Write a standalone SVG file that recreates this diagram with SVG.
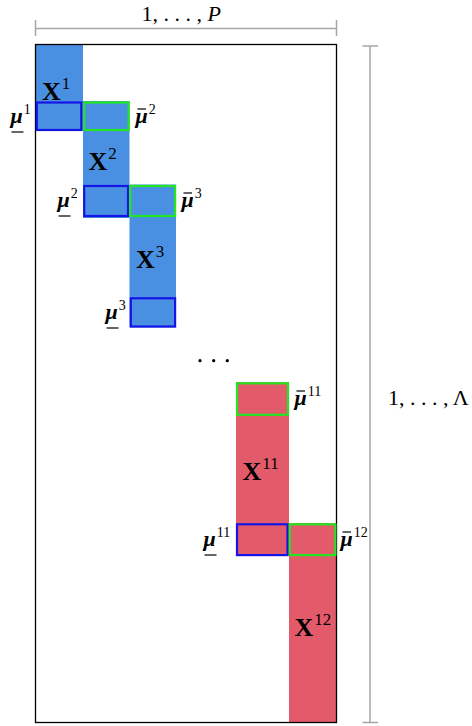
<svg xmlns="http://www.w3.org/2000/svg" width="472" height="726" viewBox="0 0 472 726">
<style>
.dim{stroke:#a6a6a6;stroke-width:1.5;fill:none}
.blue{fill:#4a90e2}
.red{fill:#e35a6a}
.bb{fill:none;stroke:#1414e6;stroke-width:2.2}
.gb{fill:none;stroke:#22e622;stroke-width:2.2}
.X{font-family:"Liberation Serif",serif;font-weight:bold;font-size:26px;fill:#000}
.sup{font-family:"Liberation Serif",serif;font-size:17px;fill:#000;font-weight:normal}
.mu{font-family:"Liberation Serif",serif;font-style:italic;font-weight:bold;font-size:22px;fill:#000}
.msup{font-family:"Liberation Serif",serif;font-size:14px;fill:#000;font-style:normal;font-weight:normal}
.bar{stroke:#000;stroke-width:1.2}
.lab{font-family:"Liberation Serif",serif;font-size:22px;fill:#000}
</style>
<rect x="0" y="0" width="472" height="726" fill="#fff"/>
<g id="connectors">
<path class="dim" d="M35.5 28.5H336.5M35.5 20V36M336.5 20V36"/>
<path class="dim" d="M370 46V722.5M362.5 46H378M362.5 722.5H378"/>
</g>
<g id="blocks">
<rect class="blue" x="35" y="44" width="48" height="87"/>
<rect class="blue" x="83" y="101" width="46.5" height="117"/>
<rect class="blue" x="129.5" y="184.5" width="46.5" height="143"/>
<rect class="red" x="236" y="382" width="53" height="174"/>
<rect class="red" x="289" y="523" width="48" height="199.5"/>
</g>
<rect id="matrix" x="35.5" y="44.5" width="301" height="678" fill="none" stroke="#000" stroke-width="1.3"/>
<g id="boxes">
<rect class="bb" x="36.8" y="102.5" width="44.5" height="27.5"/>
<rect class="gb" x="84.2" y="102.5" width="44.5" height="27.5"/>
<rect class="bb" x="84.2" y="186" width="43.8" height="30"/>
<rect class="gb" x="130.3" y="186" width="44.8" height="30"/>
<rect class="bb" x="130.8" y="298.3" width="44.3" height="28.2"/>
<rect class="gb" x="237" y="383.3" width="51" height="31.5"/>
<rect class="bb" x="237" y="524.3" width="50.5" height="30.8"/>
<rect class="gb" x="289.8" y="524.3" width="45.6" height="30.8"/>
</g>
<g id="X1"><text class="X" x="42" y="100">X<tspan class="sup" dx="1" dy="-11">1</tspan></text></g>
<g id="X2"><text class="X" x="88.5" y="170">X<tspan class="sup" dx="1" dy="-11">2</tspan></text></g>
<g id="X3"><text class="X" x="136" y="268">X<tspan class="sup" dx="1" dy="-11">3</tspan></text></g>
<g id="X11"><text class="X" x="242.5" y="480">X<tspan class="sup" dx="1" dy="-11">11</tspan></text></g>
<g id="X12"><text class="X" x="294.5" y="636">X<tspan class="sup" dx="1" dy="-11">12</tspan></text></g>
<g id="mu1"><text class="mu" x="10.5" y="123">μ<tspan class="msup" dx="1" dy="-9">1</tspan></text><line class="bar" x1="11.5" y1="132" x2="23.5" y2="132"/></g>
<g id="mubar2"><text class="mu" x="135.5" y="123">μ<tspan class="msup" dx="1" dy="-9">2</tspan></text><line class="bar" x1="137.5" y1="109" x2="146" y2="109"/></g>
<g id="mu2"><text class="mu" x="57.5" y="207">μ<tspan class="msup" dx="1" dy="-9">2</tspan></text><line class="bar" x1="58.5" y1="216" x2="70.5" y2="216"/></g>
<g id="mubar3"><text class="mu" x="181.5" y="207">μ<tspan class="msup" dx="1" dy="-9">3</tspan></text><line class="bar" x1="183.5" y1="193" x2="192" y2="193"/></g>
<g id="mu3"><text class="mu" x="105.5" y="319">μ<tspan class="msup" dx="1" dy="-9">3</tspan></text><line class="bar" x1="106.5" y1="328" x2="118.5" y2="328"/></g>
<g id="mubar11"><text class="mu" x="294.5" y="405">μ<tspan class="msup" dx="1" dy="-9">11</tspan></text><line class="bar" x1="296.5" y1="391" x2="305" y2="391"/></g>
<g id="mu11"><text class="mu" x="203.5" y="546">μ<tspan class="msup" dx="1" dy="-9">11</tspan></text><line class="bar" x1="204.5" y1="555" x2="216.5" y2="555"/></g>
<g id="mubar12"><text class="mu" x="340.5" y="546">μ<tspan class="msup" dx="1" dy="-9">12</tspan></text><line class="bar" x1="342.5" y1="532" x2="351" y2="532"/></g>
<g id="dots"><circle cx="200" cy="360.7" r="1.6"/><circle cx="213.7" cy="360.7" r="1.6"/><circle cx="227.3" cy="360.7" r="1.6"/></g>
<g id="labelP"><text class="lab" x="141.5" y="21">1, . . . , <tspan font-style="italic">P</tspan></text></g>
<g id="labelL"><text class="lab" x="388" y="405">1, . . . , Λ</text></g>
</svg>
